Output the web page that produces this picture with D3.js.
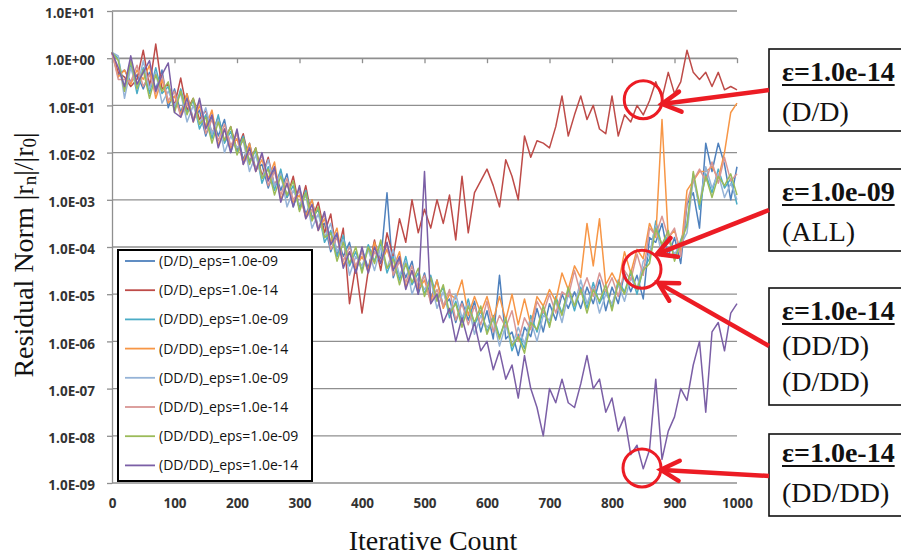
<!DOCTYPE html>
<html><head><meta charset="utf-8">
<script src="https://cdn.jsdelivr.net/npm/d3@7"></script>
<style>body{margin:0;background:#fff}svg{display:block}</style>
</head><body><svg id="c" width="901" height="556"></svg>
<script>
// ---- DATA (values are log10 of residual norm |rn|/|r0|) ----
const iterations = [0,10,20,30,40,50,60,70,80,90,100,110,120,130,140,150,160,170,180,190,200,210,220,230,240,250,260,270,280,290,300,310,320,330,340,350,360,370,380,390,400,410,420,430,440,450,460,470,480,490,500,510,520,530,540,550,560,570,580,590,600,610,620,630,640,650,660,670,680,690,700,710,720,730,740,750,760,770,780,790,800,810,820,830,840,850,860,870,880,890,900,910,920,930,940,950,960,970,980,990,1000];

const xTickValues = [0,100,200,300,400,500,600,700,800,900,1000];
const yTickExponents = [1,0,-1,-2,-3,-4,-5,-6,-7,-8,-9];
const yTickLabels = ["1.0E+01","1.0E+00","1.0E-01","1.0E-02","1.0E-03","1.0E-04","1.0E-05","1.0E-06","1.0E-07","1.0E-08","1.0E-09"];

const seriesNames = ["(D/D)_eps=1.0e-09","(D/D)_eps=1.0e-14","(D/DD)_eps=1.0e-09","(D/DD)_eps=1.0e-14","(DD/D)_eps=1.0e-09","(DD/D)_eps=1.0e-14","(DD/DD)_eps=1.0e-09","(DD/DD)_eps=1.0e-14"];
const seriesColors = ["#4F81BD","#BE4B48","#4BACC6","#F79646","#95B3D7","#D99694","#9BBB59","#7B5FA6"];

const D_D_eps09 = [0.12,-0.35,-0.25,-0.5,-0.35,-0.65,-0.3,-0.65,-0.25,-1.05,
 -0.65,-1.15,-0.75,-1.3,-1.1,-1.65,-1.25,-1.65,-1.3,-2.0,
 -1.55,-2.15,-1.8,-2.35,-2.25,-2.75,-2.35,-2.8,-2.45,-3.15,
 -2.75,-3.3,-3.0,-3.6,-3.5,-4.1,-3.75,-4.2,-3.9,-4.55,
 -4.05,-4.45,-3.9,-4.3,-2.85,-4.65,-4.25,-4.65,-4.3,-5.0,
 -4.55,-5.1,-4.7,-5.25,-5.1,-5.6,-5.15,-5.55,-5.15,-5.8,
 -5.35,-5.95,-4.6,-5.95,-5.8,-6.3,-5.7,-5.9,-5.3,-5.8,
 -5.2,-5.55,-5.0,-5.3,-4.95,-5.3,-4.85,-5.2,-4.7,-5.35,
 -4.85,-5.2,-4.55,-4.95,-4.6,-5.1,-3.8,-3.9,-3.5,-4.2,
 -3.8,-4.35,-3.1,-2.85,-3.6,-1.8,-2.4,-1.8,-2.25,-3.0,
 -2.3];
const D_D_eps14 = [0.12,-0.3,-0.4,-0.6,-0.45,0.17,-0.6,0.3,-0.65,-0.55,
 -1.0,-0.42,-1.1,-0.85,-1.3,-1.1,-1.6,-1.25,-1.75,-1.45,
 -1.95,-1.6,-2.2,-1.9,-2.5,-2.1,-2.7,-2.4,-2.95,-2.5,
 -3.2,-2.7,-3.4,-3.05,-3.7,-3.3,-4.2,-3.6,-5.2,-4.4,
 -5.4,-4.5,-3.85,-4.5,-3.7,-4.2,-3.4,-3.9,-3.0,-3.7,
 -3.2,-3.6,-3.0,-3.5,-2.9,-3.85,-2.5,-3.7,-2.85,-2.6,
 -2.35,-2.7,-3.15,-2.15,-2.5,-3.0,-1.65,-2.1,-1.75,-1.8,
 -1.9,-1.45,-0.8,-1.65,-1.2,-0.8,-1.3,-1.0,-1.5,-1.6,
 -0.8,-1.65,-1.2,-1.35,-1.0,-1.2,-0.9,-0.5,-0.85,-0.3,
 -0.75,-0.5,0.17,-0.3,-0.45,-0.3,-0.6,-0.3,-0.67,-0.6,
 -0.67];
const D_DD_eps09 = [0.12,0.0,-0.65,-0.1,-0.75,-0.2,-0.75,-0.2,-0.75,-0.6,
 -1.1,-0.65,-1.15,-0.9,-1.5,-1.2,-1.7,-1.2,-1.8,-1.55,
 -2.0,-1.65,-2.2,-1.95,-2.65,-2.3,-2.8,-2.35,-2.95,-2.7,
 -3.2,-2.8,-3.4,-3.2,-3.9,-3.65,-4.2,-3.75,-4.4,-4.1,
 -4.5,-3.95,-4.3,-3.9,-4.55,-4.2,-4.7,-4.2,-4.8,-4.55,
 -5.0,-4.6,-5.1,-4.85,-5.5,-5.15,-5.6,-5.1,-5.65,-5.35,
 -5.8,-5.45,-5.9,-5.55,-6.2,-5.85,-6.15,-5.45,-5.8,-5.35,
 -5.65,-5.05,-5.4,-4.9,-5.35,-4.85,-5.3,-4.75,-5.2,-4.9,
 -5.3,-4.7,-4.95,-4.55,-5.0,-4.45,-4.25,-3.45,-4.0,-3.75,
 -4.25,-3.85,-3.5,-2.45,-3.2,-2.45,-2.85,-2.35,-2.75,-2.55,
 -3.1];
const D_DD_eps14 = [0.12,-0.4,-0.25,-0.55,-0.25,-0.45,-0.15,-0.85,-0.45,-0.95,
 -0.8,-1.2,-0.75,-1.35,-1.0,-1.45,-1.1,-1.85,-1.5,-1.9,
 -1.7,-2.2,-1.8,-2.4,-2.15,-2.55,-2.2,-3.0,-2.65,-3.05,
 -2.9,-3.35,-3.0,-3.65,-3.4,-3.9,-3.6,-4.4,-4.1,-4.45,
 -4.2,-4.5,-3.9,-4.35,-4.05,-4.45,-4.1,-4.85,-4.5,-4.9,
 -4.7,-5.15,-4.7,-5.3,-5.0,-5.1,-4.7,-5.45,-5.05,-5.4,
 -5.05,-5.55,-5.05,-5.55,-5.0,-5.65,-5.1,-5.65,-5.05,-5.25,
 -4.9,-5.15,-4.55,-4.9,-4.4,-4.65,-3.5,-4.4,-3.4,-4.8,
 -4.55,-4.8,-4.1,-4.55,-4.05,-4.25,-3.5,-3.8,-1.3,-3.8,
 -3.65,-4.1,-2.8,-2.6,-2.4,-2.4,-2.3,-2.55,-2.0,-1.15,
 -0.95];
const DD_D_eps09 = [0.12,0.05,-0.85,-0.2,-0.65,-0.05,-0.65,-0.3,-0.95,-0.7,
 -1.0,-0.75,-1.35,-1.0,-1.4,-1.05,-1.6,-1.3,-2.0,-1.65,
 -1.9,-1.75,-2.4,-2.05,-2.55,-2.15,-2.7,-2.45,-3.15,-2.8,
 -3.1,-2.9,-3.6,-3.3,-3.8,-3.5,-4.1,-3.85,-4.6,-4.2,
 -4.4,-4.05,-4.5,-4.0,-4.45,-4.05,-4.6,-4.3,-5.0,-4.65,
 -4.9,-4.7,-5.3,-4.95,-5.4,-5.0,-5.5,-5.2,-5.85,-5.45,
 -5.7,-5.55,-6.1,-5.65,-6.1,-5.7,-6.05,-5.55,-6.0,-5.45,
 -5.55,-5.15,-5.6,-5.0,-5.25,-4.7,-5.2,-4.85,-5.4,-5.0,
 -5.2,-4.8,-5.15,-4.65,-4.9,-4.3,-4.15,-3.55,-4.2,-3.85,
 -4.15,-3.95,-3.7,-2.55,-3.1,-2.3,-2.75,-2.45,-2.95,-2.65,
 -3.0];
const DD_D_eps14 = [0.12,-0.45,-0.45,-0.5,-0.15,-0.6,-0.35,-0.75,-0.35,-0.9,
 -0.7,-1.25,-0.95,-1.3,-0.9,-1.6,-1.3,-1.75,-1.4,-1.85,
 -1.6,-2.25,-2.0,-2.35,-2.05,-2.7,-2.4,-2.9,-2.55,-3.0,
 -2.8,-3.4,-3.2,-3.6,-3.3,-4.05,-3.8,-4.3,-4.0,-4.4,
 -4.1,-4.55,-4.1,-4.3,-3.95,-4.6,-4.3,-4.75,-4.4,-4.85,
 -4.6,-5.2,-4.9,-5.25,-4.9,-5.55,-5.2,-5.65,-5.25,-5.65,
 -5.15,-5.8,-5.45,-5.7,-5.35,-6.0,-5.5,-5.75,-5.15,-5.4,
 -5.0,-5.4,-4.95,-5.05,-4.5,-5.0,-4.65,-5.05,-4.55,-4.95,
 -4.65,-5.05,-4.5,-4.7,-4.15,-4.6,-3.6,-3.75,-3.35,-3.8,
 -3.6,-4.2,-3.05,-2.6,-2.35,-2.6,-2.2,-2.65,-2.1,-2.6,
 -2.45];
const DD_DD_eps09 = [0.12,-0.05,-0.7,-0.05,-0.65,-0.25,-0.85,-0.35,-0.7,-0.5,
 -1.15,-0.7,-1.2,-0.85,-1.4,-1.25,-1.8,-1.35,-1.75,-1.45,
 -2.05,-1.7,-2.25,-1.9,-2.55,-2.35,-2.9,-2.5,-2.9,-2.6,
 -3.25,-2.85,-3.45,-3.15,-3.8,-3.7,-4.3,-3.9,-4.35,-4.0,
 -4.55,-4.0,-4.35,-3.85,-4.45,-4.25,-4.8,-4.35,-4.75,-4.45,
 -5.05,-4.65,-5.15,-4.8,-5.4,-5.2,-5.7,-5.25,-5.6,-5.25,
 -5.85,-5.5,-5.95,-5.5,-6.1,-5.9,-6.25,-5.6,-5.75,-5.25,
 -5.7,-5.1,-5.45,-4.85,-5.25,-4.9,-5.4,-4.9,-5.15,-4.8,
 -5.35,-4.75,-5.0,-4.5,-4.9,-4.5,-4.35,-3.6,-3.95,-3.65,
 -4.3,-3.9,-3.55,-2.4,-3.1,-2.5,-2.95,-2.5,-2.7,-2.45,
 -2.9];
const DD_DD_eps14 = [0.12,-0.2,-0.6,0.05,-0.55,-0.3,-0.05,-0.7,-0.35,-0.1,
 -1.15,-1.25,-0.85,-1.35,-0.85,-1.5,-1.2,-1.9,-1.5,-2.0,
 -1.5,-2.25,-1.9,-2.4,-2.0,-2.6,-2.3,-3.05,-2.65,-3.15,
 -2.7,-3.4,-3.1,-3.65,-3.25,-3.95,-3.7,-4.45,-4.1,-4.55,
 -4.0,-4.55,-4.0,-4.35,-3.9,-4.5,-4.2,-4.9,-4.5,-5.0,
 -2.4,-5.2,-5.0,-5.6,-5.3,-6.0,-5.5,-6.0,-5.6,-6.2,
 -6.0,-6.6,-6.2,-6.8,-6.5,-7.2,-6.3,-7.0,-7.4,-8.0,
 -7.0,-7.3,-6.8,-7.3,-7.4,-6.9,-6.3,-7.0,-6.8,-7.5,
 -7.2,-7.9,-7.6,-8.4,-8.2,-8.7,-8.3,-6.8,-8.5,-7.9,
 -7.6,-7.0,-7.25,-6.5,-6.0,-7.5,-5.8,-5.6,-6.2,-5.4,
 -5.2];
const seriesValues = [D_D_eps09,D_D_eps14,D_DD_eps09,D_DD_eps14,DD_D_eps09,DD_D_eps14,DD_DD_eps09,DD_DD_eps14];

// annotation texts
const annotHeads = ["ε=1.0e-14","ε=1.0e-09","ε=1.0e-14","ε=1.0e-14"];
const annotBodies = [["(D/D)"],["(ALL)"],["(DD/D)","(D/DD)"],["(DD/DD)"]];
// circled points [iteration, log10 value]
const circledPoints = [[850,-0.88],[848,-4.47],[848,-8.68]];
// arrow targets [iteration, log10 value]
const arrowTargets = [[880,-0.97],[872,-4.15],[874,-4.76],[878,-8.72]];

// ---- DRAWING ----
const svg = d3.select("#c");
const x = d3.scaleLinear().domain([0,1000]).range([112,737]);
const y = d3.scaleLinear().domain([-9,1]).range([483,11]);
const grid = "#8f8f8f";

// horizontal gridlines
svg.append("g").selectAll("line").data(yTickExponents).join("line")
  .attr("x1",x(0)).attr("x2",x(1000)).attr("y1",d=>y(d)).attr("y2",d=>y(d))
  .attr("stroke",grid).attr("stroke-width",1.3);

// y axis
const yAx = svg.append("g").attr("transform",`translate(${x(0)},0)`)
  .call(d3.axisLeft(y).tickValues(yTickExponents).tickFormat((d,i)=>yTickLabels[i]).tickSizeInner(5).tickSizeOuter(0).tickPadding(12));
yAx.select(".domain").attr("stroke",grid).attr("stroke-width",1.3);
yAx.selectAll(".tick line").attr("stroke",grid).attr("stroke-width",1.3);
yAx.selectAll("text").attr("font-family","'Open Sans',sans-serif").attr("font-weight",700).attr("font-size",13.5).attr("fill","#333").attr("dy","0.5em");

// x axis crossing at 1.0E+00 (ticks only)
const xAx = svg.append("g").attr("transform",`translate(0,${y(0)})`)
  .call(d3.axisBottom(x).tickValues(xTickValues).tickFormat("").tickSizeInner(5).tickSizeOuter(0));
xAx.select(".domain").attr("stroke",grid).attr("stroke-width",1.3);
xAx.selectAll(".tick line").attr("stroke",grid).attr("stroke-width",1.3);

// x tick labels at the bottom
const xLab = svg.append("g").attr("transform",`translate(0,${y(-9)})`)
  .call(d3.axisBottom(x).tickValues(xTickValues).tickFormat(d3.format("d")).tickSize(0).tickPadding(15));
xLab.select(".domain").remove();
xLab.selectAll("text").attr("font-family","'Open Sans',sans-serif").attr("font-weight",700).attr("font-size",13.5).attr("fill","#333");

// series
const line = d3.line().x((d,i)=>x(iterations[i])).y(d=>y(d));
svg.append("g").selectAll("path").data(seriesValues).join("path")
  .attr("d",line).attr("fill","none").attr("stroke",(d,i)=>seriesColors[i])
  .attr("stroke-width",1.5).attr("stroke-linejoin","round");

// legend
const lg = svg.append("g");
lg.append("rect").attr("x",118).attr("y",250).attr("width",194).attr("height",231)
  .attr("fill","#fff").attr("stroke","#000").attr("stroke-width",2);
const rows = lg.selectAll("g.row").data(seriesNames).join("g").attr("class","row")
  .attr("transform",(d,i)=>`translate(0,${261+29.2*i})`);
rows.append("line").attr("x1",125).attr("x2",155).attr("stroke",(d,i)=>seriesColors[i]).attr("stroke-width",1.8);
rows.append("text").attr("x",159).attr("dy","0.36em").text(d=>d)
  .attr("font-family","'Open Sans',sans-serif").attr("font-size",14).attr("fill","#111");

// axis titles
const yt = svg.append("text").attr("transform","translate(33,255) rotate(-90)").attr("text-anchor","middle")
  .attr("font-family","'Liberation Serif','Times New Roman',serif").attr("font-size",28).attr("fill","#111");
yt.append("tspan").text("Residual Norm |r");
yt.append("tspan").text("n").attr("font-size",19).attr("dy",3);
yt.append("tspan").text("|/|r").attr("dy",-3);
yt.append("tspan").text("0").attr("font-size",19).attr("dy",3);
yt.append("tspan").text("|").attr("dy",-3);
svg.append("text").attr("x",433).attr("y",550).attr("text-anchor","middle")
  .attr("font-family","'Liberation Serif','Times New Roman',serif").attr("font-size",28).attr("fill","#111")
  .text("Iterative Count");

// annotation boxes
const red = "#ec1c24";
const boxes = [{top:49,h:82,lines:[81,121]},{top:169,h:82,lines:[201,241]},{top:288,h:117,lines:[320,355,391]},{top:434,h:82,lines:[462,502]}];
boxes.forEach((b,k)=>{
  const g = svg.append("g");
  g.append("rect").attr("x",769).attr("y",b.top).attr("width",160).attr("height",b.h)
    .attr("fill","#fff").attr("stroke","#111").attr("stroke-width",1.6);
  const t = g.append("text").attr("x",782).attr("y",b.lines[0]).text(annotHeads[k])
    .attr("font-family","'Liberation Serif','Times New Roman',serif").attr("font-weight",700).attr("font-size",28).attr("fill","#111");
  const w = t.node().getComputedTextLength();
  g.append("line").attr("x1",782).attr("x2",782+w).attr("y1",b.lines[0]+4).attr("y2",b.lines[0]+4).attr("stroke","#111").attr("stroke-width",2);
  annotBodies[k].forEach((s,j)=>{
    g.append("text").attr("x",782).attr("y",b.lines[j+1]).text(s)
      .attr("font-family","'Liberation Serif','Times New Roman',serif").attr("font-size",28).attr("fill","#111");
  });
});

// circles
svg.append("g").selectAll("circle").data(circledPoints).join("circle")
  .attr("cx",d=>x(d[0])).attr("cy",d=>y(d[1])).attr("r",19)
  .attr("fill","none").attr("stroke",red).attr("stroke-width",3);

// arrows
const arrowStarts = [[769,90],[769,210],[769,346],[769,476]];
arrowTargets.forEach((t,k)=>{
  const [x0,y0] = arrowStarts[k];
  const x1 = x(t[0]), y1 = y(t[1]);
  const a = Math.atan2(y0-y1, x0-x1);
  const L = 21, s = 0.5;
  const g = svg.append("g").attr("stroke",red).attr("fill","none").attr("stroke-width",4.5);
  g.append("line").attr("x1",x0).attr("y1",y0).attr("x2",x1+2*Math.cos(a)).attr("y2",y1+2*Math.sin(a));
  g.append("path").attr("stroke-linejoin","miter").attr("stroke-linecap","round")
    .attr("d",`M${x1+L*Math.cos(a+s)},${y1+L*Math.sin(a+s)}L${x1},${y1}L${x1+L*Math.cos(a-s)},${y1+L*Math.sin(a-s)}`);
});
</script></body></html>
